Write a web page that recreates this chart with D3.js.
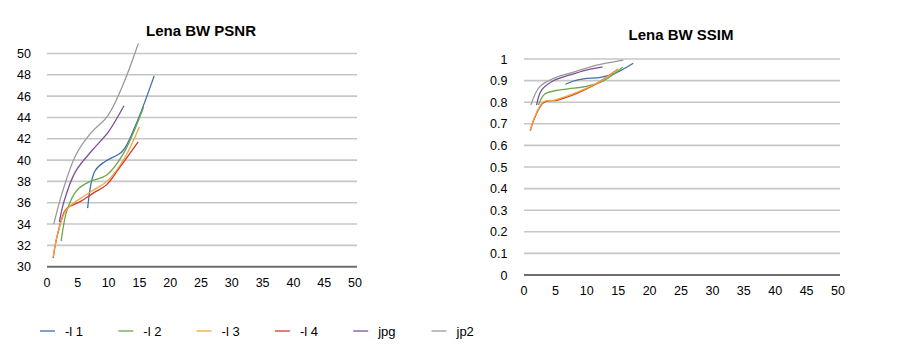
<!DOCTYPE html>
<html>
<head>
<meta charset="utf-8">
<script src="https://cdn.jsdelivr.net/npm/d3@7"></script>
<style>
  body { margin: 0; background: #fff; }
  svg { font-family: "Liberation Sans", Arial, Helvetica, sans-serif; }
</style>
</head>
<body>
<svg id="chart" width="902" height="351"></svg>
<script>
// Tick labels
const xTicks = [0, 5, 10, 15, 20, 25, 30, 35, 40, 45, 50];
const psnrTicks = [30, 32, 34, 36, 38, 40, 42, 44, 46, 48, 50];
const ssimTicks = [0, 0.1, 0.2, 0.3, 0.4, 0.5, 0.6, 0.7, 0.8, 0.9, 1];

// Series
const seriesNames = ["-l 1", "-l 2", "-l 3", "-l 4", "jpg", "jp2"];

const l1X    = [6.6, 7.8, 9.5, 12.2, 14.4, 17.4];
const l1Psnr = [35.5, 39.0, 39.9, 40.8, 43.3, 47.9];
const l1Ssim = [0.883, 0.897, 0.908, 0.915, 0.932, 0.980];

const l2X    = [2.3, 3.3, 4.9, 7.0, 9.7, 12.4, 15.7];
const l2Psnr = [32.4, 35.4, 37.2, 38.0, 38.6, 40.6, 45.0];
const l2Ssim = [0.787, 0.838, 0.853, 0.862, 0.872, 0.895, 0.962];

const l3X    = [1.0, 1.7, 3.1, 4.9, 7.3, 9.9, 12.5, 15.0];
const l3Psnr = [30.9, 33.0, 35.3, 36.2, 37.1, 38.1, 40.1, 43.1];
const l3Ssim = [0.671, 0.733, 0.802, 0.810, 0.833, 0.864, 0.903, 0.955];

const l4X    = [1.0, 1.7, 3.1, 5.4, 7.5, 9.7, 11.9, 14.8];
const l4Psnr = [30.8, 33.0, 35.4, 36.1, 36.9, 37.7, 39.4, 41.7];
const l4Ssim = [0.668, 0.728, 0.798, 0.810, 0.830, 0.858, 0.892, 0.950];

const jpgX    = [2.0, 2.8, 4.6, 7.3, 9.9, 12.5];
const jpgPsnr = [34.2, 36.2, 38.9, 40.9, 42.6, 45.1];
const jpgSsim = [0.787, 0.856, 0.898, 0.926, 0.949, 0.964];

const jp2X    = [1.1, 2.5, 4.7, 7.2, 9.8, 12.5, 15.8];
const jp2Psnr = [34.0, 37.0, 40.5, 42.6, 44.1, 47.3, 52.6];
const jp2Ssim = [0.787, 0.872, 0.910, 0.934, 0.957, 0.977, 0.995];

const seriesColors = ["#3d6fae", "#6aa84a", "#f2a540", "#d23a30", "#7d4f98", "#9a9a9a"];

const series = [
  { name: seriesNames[0], xs: l1X, psnr: l1Psnr, ssim: l1Ssim, color: seriesColors[0] },
  { name: seriesNames[1], xs: l2X, psnr: l2Psnr, ssim: l2Ssim, color: seriesColors[1] },
  { name: seriesNames[2], xs: l3X, psnr: l3Psnr, ssim: l3Ssim, color: seriesColors[2] },
  { name: seriesNames[3], xs: l4X, psnr: l4Psnr, ssim: l4Ssim, color: seriesColors[3] },
  { name: seriesNames[4], xs: jpgX, psnr: jpgPsnr, ssim: jpgSsim, color: seriesColors[4] },
  { name: seriesNames[5], xs: jp2X, psnr: jp2Psnr, ssim: jp2Ssim, color: seriesColors[5] }
];

// draw order: red under orange
const drawOrder = [0, 1, 3, 2, 4, 5];

const svg = d3.select("#chart");

function drawPanel(opts) {
  const x = d3.scaleLinear().domain([0, 50]).range([opts.x0, opts.x1]);
  const y = d3.scaleLinear().domain(opts.yDomain).range([opts.yBottom, opts.yTop]);
  const g = svg.append("g");

  // Title
  g.append("text")
    .attr("x", opts.titleX)
    .attr("y", opts.titleY)
    .attr("text-anchor", "middle")
    .style("font-size", "15px")
    .style("font-weight", "bold")
    .text(opts.title);

  // Gridlines
  g.selectAll(".grid")
    .data(opts.yTicks.slice(1))
    .enter()
    .append("line")
    .attr("x1", opts.x0)
    .attr("x2", opts.x1 + 2)
    .attr("y1", d => y(d))
    .attr("y2", d => y(d))
    .attr("stroke", "#c6c6c6")
    .attr("stroke-width", 1.6);

  // Baseline
  g.append("line")
    .attr("x1", opts.x0)
    .attr("x2", opts.x1 + 2)
    .attr("y1", y(opts.yDomain[0]))
    .attr("y2", y(opts.yDomain[0]))
    .attr("stroke", "#6e6e6e")
    .attr("stroke-width", 2);

  // Y labels
  g.selectAll(".ylab")
    .data(opts.yTicks)
    .enter()
    .append("text")
    .attr("x", opts.yLabelX)
    .attr("y", d => y(d))
    .attr("dy", "0.36em")
    .attr("text-anchor", "end")
    .style("font-size", "12.5px")
    .text(d => d);

  // X labels
  g.selectAll(".xlab")
    .data(xTicks)
    .enter()
    .append("text")
    .attr("x", d => x(d))
    .attr("y", opts.yBottom + 20)
    .attr("text-anchor", "middle")
    .style("font-size", "12.5px")
    .text(d => d);

  // Clip so lines stay inside the plot
  const clipId = "clip-" + opts.key;
  svg.append("clipPath").attr("id", clipId)
    .append("rect")
    .attr("x", opts.x0)
    .attr("y", opts.clipTop)
    .attr("width", opts.x1 - opts.x0 + 4)
    .attr("height", opts.yBottom - opts.clipTop);

  const line = d3.line()
    .x(d => x(d[0]))
    .y(d => y(d[1]))
    .curve(d3.curveCatmullRom.alpha(0.5));

  drawOrder.forEach(i => {
    const s = series[i];
    const pts = s.xs.map((v, j) => [v, s[opts.key][j]]);
    g.append("path")
      .attr("d", line(pts))
      .attr("clip-path", `url(#${clipId})`)
      .attr("fill", "none")
      .attr("stroke", s.color)
      .attr("stroke-width", 1.3);
  });
}

drawPanel({
  key: "psnr", title: "Lena BW PSNR", titleX: 201, titleY: 36,
  x0: 47, x1: 355, yTop: 53.5, yBottom: 266.7, yDomain: [30, 50],
  yTicks: psnrTicks, yLabelX: 31, clipTop: 43.5
});

drawPanel({
  key: "ssim", title: "Lena BW SSIM", titleX: 681, titleY: 40,
  x0: 524, x1: 838, yTop: 59, yBottom: 275, yDomain: [0, 1],
  yTicks: ssimTicks, yLabelX: 507.5, clipTop: 40
});

// Legend
const legend = svg.append("g").attr("transform", "translate(40,331)");
const legendItem = legend.selectAll("g")
  .data(series)
  .enter()
  .append("g")
  .attr("transform", (d, i) => `translate(${i * 78.3},0)`);

legendItem.append("line")
  .attr("x1", 0).attr("x2", 15)
  .attr("y1", 0).attr("y2", 0)
  .attr("stroke", d => d.color)
  .attr("stroke-width", 1.3);

legendItem.append("text")
  .attr("x", 25)
  .attr("y", 0)
  .attr("dy", "0.36em")
  .style("font-size", "13px")
  .text(d => d.name);
</script>
</body>
</html>
